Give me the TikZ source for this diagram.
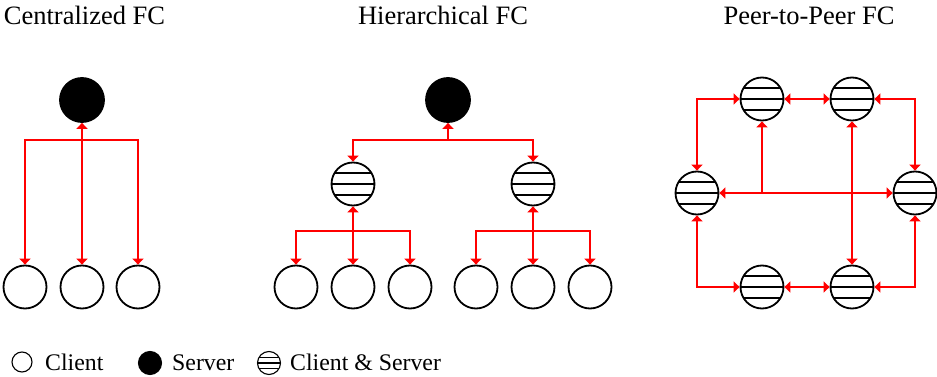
\documentclass[tikz,border=0pt]{standalone}
\usepackage{fontspec}
\setmainfont{Liberation Serif}
\usetikzlibrary{arrows.meta, calc}

\tikzset{
  >={Triangle[width=11pt,length=6pt]},
  server/.style={circle, fill=black, draw=black, line width=1.8pt, minimum size=44pt, inner sep=0pt},
  client/.style={circle, draw=black, line width=1.8pt, minimum size=43pt, inner sep=0pt},
  peer/.style={client, path picture={
      \foreach \f in {0.25,0.5,0.75}
        \draw ($(path picture bounding box.north west)!\f!(path picture bounding box.south west)$)
           -- ($(path picture bounding box.north east)!\f!(path picture bounding box.south east)$);}},
  link/.style={red, line width=1.8pt},
  title/.style={font=\fontsize{26.5}{30}\selectfont, anchor=base, inner sep=0pt},
  legend/.style={font=\fontsize{23.8}{28}\selectfont, anchor=base west, inner sep=0pt},
  small/.style={line width=1.1pt, minimum size=#1},
}

\begin{document}
\begin{tikzpicture}[x=1pt, y=-1pt]
    \useasboundingbox (0,0) rectangle (937,377);

    % titles
    \node[title] (tc) at (84.5,25) {Centralized FC};
    \node[title] (th) at (443,25) {Hierarchical FC};
    \node[title] (tp) at (809,25) {Peer-to-Peer FC};

    % centralized
    \node[server] (cs) at (82,100) {};
    \node[client] (c1) at (25,287) {};
    \node[client] (c2) at (82,287) {};
    \node[client] (c3) at (138,287) {};
    \coordinate (cj) at (82,140);

    \draw[link, <->] (cs) -- (c2);
    \draw[link, ->] (cj) -| (c1);
    \draw[link, ->] (cj) -| (c3);

    % hierarchical
    \node[server] (hs) at (448,100) {};
    \node[peer] (h1) at (353,184) {};
    \node[peer] (h2) at (533,184) {};
    \coordinate (hj) at (448,140);

    \draw[link, ->] (hj) -- (hs);
    \draw[link, ->] (hj) -| (h1);
    \draw[link, ->] (hj) -| (h2);

    \node[client] (h1a) at (296,287) {};
    \node[client] (h1b) at (353,287) {};
    \node[client] (h1c) at (410,287) {};
    \node[client] (h2a) at (476,287) {};
    \node[client] (h2b) at (533,287) {};
    \node[client] (h2c) at (590,287) {};
    \coordinate (h1j) at (353,231);
    \coordinate (h2j) at (533,231);

    \draw[link, <->] (h1) -- (h1b);
    \draw[link, ->] (h1j) -| (h1a);
    \draw[link, ->] (h1j) -| (h1c);
    \draw[link, <->] (h2) -- (h2b);
    \draw[link, ->] (h2j) -| (h2a);
    \draw[link, ->] (h2j) -| (h2c);

    % peer-to-peer
    \node[peer] (ptl) at (762,99) {};
    \node[peer] (ptr) at (852,99) {};
    \node[peer] (pl) at (697,193) {};
    \node[peer] (pr) at (915,193) {};
    \node[peer] (pbl) at (762,287) {};
    \node[peer] (pbr) at (852,287) {};
    \coordinate (pj) at (762,193);

    \draw[link, <->] (pl) |- (ptl);
    \draw[link, <->] (ptl) -- (ptr);
    \draw[link, <->] (ptr) -| (pr);
    \draw[link, <->] (pl) |- (pbl);
    \draw[link, <->] (pbl) -- (pbr);
    \draw[link, <->] (pbr) -| (pr);
    \draw[link, <->] (pl) -- (pr);
    \draw[link, ->] (pj) -- (ptl);
    \draw[link, <->] (ptr) -- (pbr);

    % legend
    \node[client, small=20pt] (lc) at (22,362) {};
    \node[legend] (lct) at (45,370) {Client};
    \node[server, small=23pt] (ls) at (150,363) {};
    \node[legend] (lst) at (172,370) {Server};
    \node[peer, small=23pt] (lp) at (269,363) {};
    \node[legend] (lpt) at (290,370) {Client \& Server};

\end{tikzpicture}
\end{document}
